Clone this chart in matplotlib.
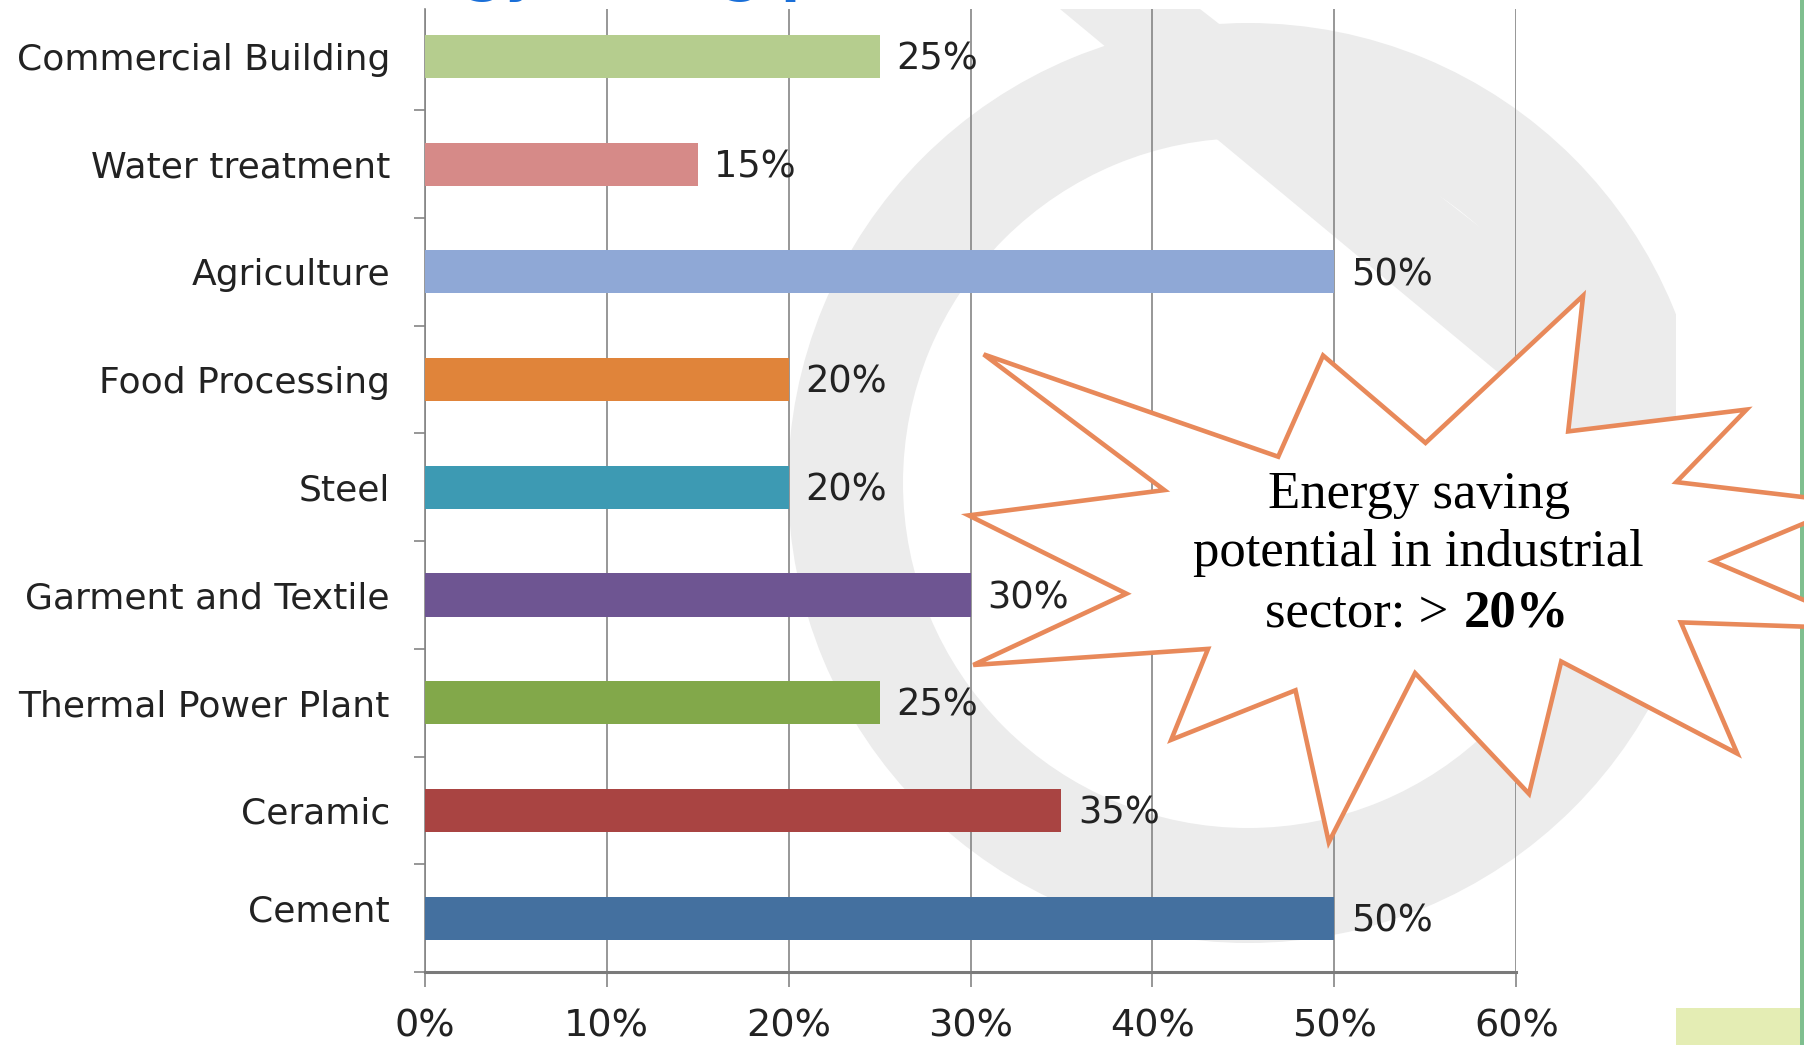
import matplotlib
matplotlib.use("Agg")
import matplotlib.pyplot as plt
import matplotlib.transforms as mtransforms
from matplotlib.patches import Polygon, Wedge, Rectangle
from matplotlib.ticker import FixedLocator, PercentFormatter

# sectors, bottom to top
sectors = ["Cement", "Ceramic", "Thermal Power Plant", "Garment and Textile",
           "Steel", "Food Processing", "Agriculture", "Water treatment",
           "Commercial Building"]
saving = [0.50, 0.35, 0.25, 0.30, 0.20, 0.20, 0.50, 0.15, 0.25]
bar_colors = ["#44709F", "#A94442", "#82A84A", "#6E5592", "#3D9AB3",
              "#E0843A", "#8FA8D6", "#D68A88", "#B5CD8E"]
xticks = [0, 0.1, 0.2, 0.3, 0.4, 0.5, 0.6]

W, H = 1804, 1045
fig = plt.figure(figsize=(W / 100, H / 100), dpi=100)
fig.patch.set_facecolor("white")

# faint logo behind the chart
bg = fig.add_axes([0, 0, 1, 1], zorder=0)
bg.set_xlim(0, W)
bg.set_ylim(H, 0)
bg.axis("off")
clip = Rectangle((0, 9), 1676, 1000, transform=bg.transData, visible=False)
bg.add_patch(clip)
ring = Wedge((1248, 483), 460, 0, 360, width=115, color="#ECECEC", lw=0)
band = Polygon([(1060, 9), (1200, 9), (1676, 380), (1676, 520)], closed=True,
               color="#ECECEC", lw=0)
for p in (ring, band):
    bg.add_patch(p)
    p.set_clip_path(clip)
# slide decorations on the right
bg.add_patch(Rectangle((1676, 1008), 124, 37, color="#E4EDB4", lw=0))
bg.add_patch(Rectangle((1800, 0), 4, H, color="#7FBF8F", lw=0))

# bar chart
left, right, bottom, top = 424.6, 1516.4, 972, 9
ax = fig.add_axes([left / W, (H - bottom) / H, (right - left) / W, (bottom - top) / H],
                  zorder=1)
ax.patch.set_alpha(0)
ypos = list(range(len(sectors)))
ax.barh(ypos, saving, height=0.4, color=bar_colors, zorder=3)
for y, v in zip(ypos, saving):
    ax.annotate(f"{v:.0%}", (v, y), xytext=(12, -2), textcoords="offset points",
                ha="left", va="center", fontsize=26.5, color="#222222", zorder=4)

ax.set_xlim(0, 0.6)
ax.set_ylim(-0.5, 8.44)
ax.xaxis.set_major_locator(FixedLocator(xticks))
ax.xaxis.set_major_formatter(PercentFormatter(1.0, decimals=0))
ax.grid(axis="x", color="#858585", lw=1.2, zorder=1)
ax.set_yticks(ypos)
ax.set_yticklabels(sectors)
ax.yaxis.set_minor_locator(FixedLocator([i - 0.5 for i in range(len(sectors) + 1)]))
ax.tick_params(axis="y", which="major", length=0, pad=25, labelsize=26, labelcolor="#222222")
ax.tick_params(axis="y", which="minor", length=8, width=1.2, color="#858585")
ax.tick_params(axis="x", length=11, width=1.2, color="#858585", pad=15,
               labelsize=27.5, labelcolor="#222222")
for s in ("top", "right"):
    ax.spines[s].set_visible(False)
ax.spines["left"].set_color("#858585")
ax.spines["left"].set_linewidth(1.2)
ax.spines["bottom"].set_color("#7A7A7A")
ax.spines["bottom"].set_linewidth(2.2)
ax.spines["bottom"].set_zorder(4)

# the Cement label sits a little higher than its bar
lab = ax.get_yticklabels()[0]
lab.set_transform(lab.get_transform() + mtransforms.ScaledTranslation(0, 0.10, fig.dpi_scale_trans))

# callout star
ov = fig.add_axes([0, 0, 1, 1], zorder=2)
ov.set_xlim(0, W)
ov.set_ylim(H, 0)
ov.axis("off")
star = [(983.7, 354.4), (1278.2, 456.7), (1323.1, 355.5), (1425.5, 442.9),
        (1583.1, 295.7), (1568.2, 431.4), (1746.5, 409.6), (1676.3, 482.1),
        (1853.0, 503.0), (1713.1, 561.4), (1872.0, 629.0), (1680.9, 622.4),
        (1737.3, 753.6), (1561.2, 661.5), (1529.0, 793.8), (1415.1, 673.1),
        (1328.8, 842.2), (1295.5, 690.3), (1171.2, 739.8), (1208.0, 648.9),
        (973.3, 665.0), (1126.4, 593.7), (968.7, 515.4), (1164.3, 490.1)]
ov.add_patch(Polygon(star, closed=True, facecolor="white", edgecolor="#E8895A",
                     lw=3.3, joinstyle="miter", clip_on=False))
serif = "Liberation Serif"
ov.text(1418.6, 494.7, "Energy saving", ha="center", va="center",
        fontsize=38, family=serif, color="black")
ov.text(1418.6, 553.4, "potential in industrial", ha="center", va="center",
        fontsize=38, family=serif, color="black")
ov.text(1462, 613.2, "sector: > ", ha="right", va="center",
        fontsize=38, family=serif, color="black")
ov.text(1464, 613.2, "20%", ha="left", va="center",
        fontsize=38, family=serif, weight="bold", color="black")

# slide title, mostly above the visible area
ov.text(324, -10, "Energy saving potential", ha="left", va="baseline",
        fontsize=39.5, weight="bold", color="#1A6FD8", clip_on=False)

fig.savefig("out.png", dpi=100)
